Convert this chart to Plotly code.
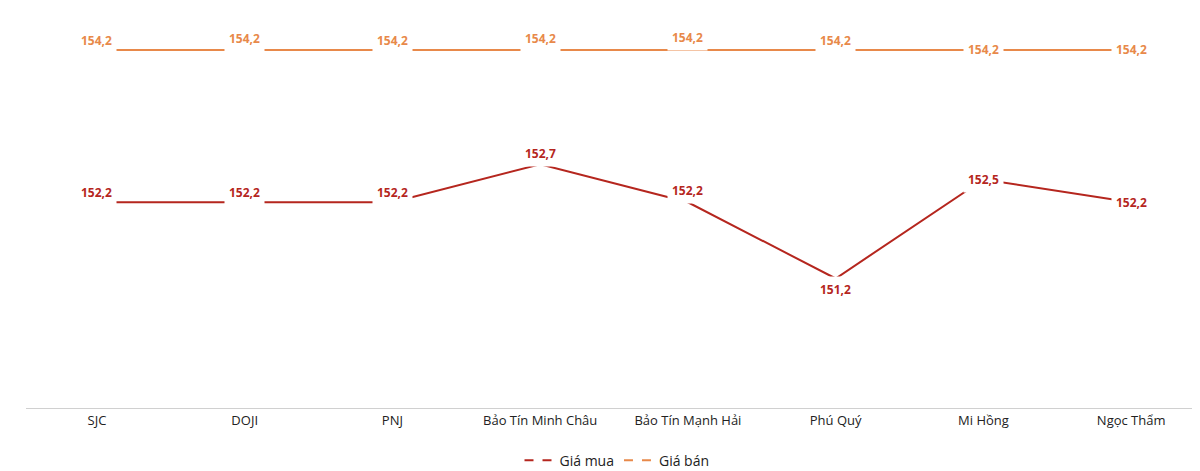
import plotly.graph_objects as go

cats = ["SJC", "DOJI", "PNJ", "Bảo Tín Minh Châu", "Bảo Tín Mạnh Hải", "Phú Quý", "Mi Hồng", "Ngọc Thẩm"]
mua = [152.2, 152.2, 152.2, 152.7, 152.2, 151.2, 152.5, 152.2]
ban = [154.2, 154.2, 154.2, 154.2, 154.2, 154.2, 154.2, 154.2]
mua_shift = [10, 10, 10, 11, 12, -11, 0, 0]
ban_shift = [9, 11, 9, 11, 12, 9, 0, 0]

C_MUA = "#b5261e"
C_BAN = "#e8894a"

fig = go.Figure()
fig.add_trace(go.Scatter(x=cats, y=mua, mode="lines", line=dict(color=C_MUA, width=2), showlegend=False))
fig.add_trace(go.Scatter(x=cats, y=ban, mode="lines", line=dict(color=C_BAN, width=2), showlegend=False))
fig.add_trace(go.Scatter(x=[None], y=[None], mode="lines", name="Giá mua", line=dict(color=C_MUA, width=2, dash="dash")))
fig.add_trace(go.Scatter(x=[None], y=[None], mode="lines", name="Giá bán", line=dict(color=C_BAN, width=2, dash="dash")))

def fmt(v):
    return f"{v:.1f}".replace(".", ",")

for series, shifts, col in ((mua, mua_shift, C_MUA), (ban, ban_shift, C_BAN)):
    for c, v, s in zip(cats, series, shifts):
        fig.add_annotation(x=c, y=v, text=f"<b>{fmt(v)}</b>", showarrow=False, yshift=s,
                           font=dict(color=col, size=12, family="Open Sans"), bgcolor="white", borderpad=4)

fig.update_layout(
    width=1200, height=471, margin=dict(l=18, r=0, t=0, b=71, autoexpand=False),
    plot_bgcolor="white", paper_bgcolor="white",
    font=dict(family="Open Sans", size=13, color="#222"),
    legend=dict(orientation="h", x=0.5, xanchor="center", yref="container", y=0.005, yanchor="bottom",
                font=dict(size=14, color="#222")),
    xaxis=dict(showgrid=False, showline=True, linecolor="#d0d0d0", ticks="",
               tickfont=dict(size=13, color="#222"), range=[-0.48, 7.52]),
    yaxis=dict(visible=False, range=[149.5, 154.75]),
)
fig.write_html("out.html")
